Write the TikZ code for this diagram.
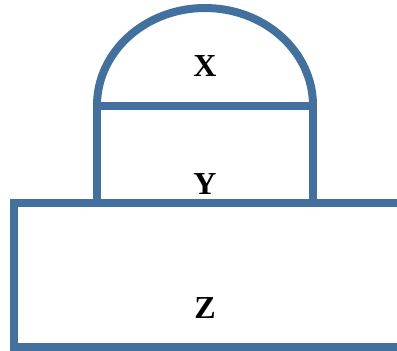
\documentclass[tikz,border=0pt]{standalone}
\usepackage{fontspec}
\setmainfont{Liberation Serif}
\definecolor{edge}{RGB}{66,113,160}
\begin{document}
\begin{tikzpicture}[x=1pt,y=-1pt,
  part/.style={draw=edge,line width=8pt},
  lbl/.style={font=\bfseries\fontsize{32}{32}\selectfont,inner sep=0pt}]
\useasboundingbox (0,0) rectangle (397,351);
\clip (0,0) rectangle (397,351);
% Z block
\draw[part] (14,203) rectangle (420,347);
% Y block sides and top line
\draw[part] (97,203) -- (97,105.5) -- (313,105.5) -- (313,203);
% X dome
\draw[part] (97,105.5) arc[start angle=180,end angle=0,x radius=108,y radius=-97.5];
\node[lbl] (X) at (205,66) {X};
\node[lbl] (Y) at (205,184) {Y};
\node[lbl] (Z) at (205,308) {Z};
\end{tikzpicture}
\end{document}
